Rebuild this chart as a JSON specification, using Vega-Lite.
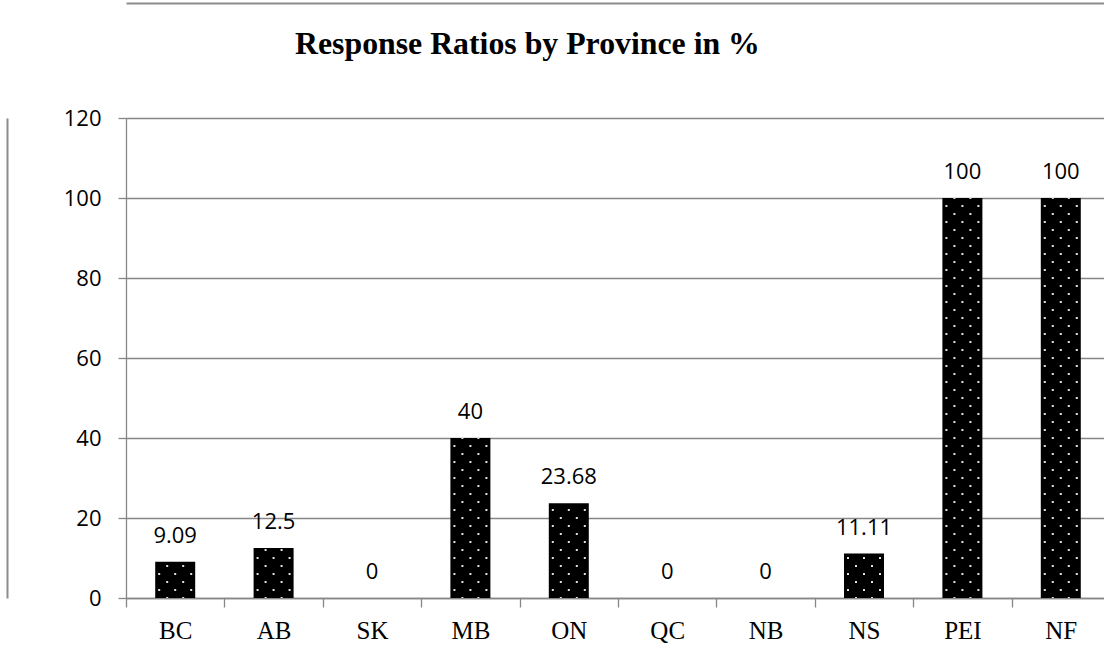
{
  "$schema": "https://vega.github.io/schema/vega-lite/v6.json",
  "width": 984,
  "height": 480,
  "autosize": "none",
  "padding": {"left": 126, "top": 118, "right": 0, "bottom": 52},
  "background": "white",
  "config": {"view": {"stroke": null}},
  "title": {
    "text": "Response Ratios by Province in %",
    "font": "Liberation Serif",
    "fontSize": 31.8,
    "fontWeight": "bold",
    "color": "black",
    "anchor": "start",
    "frame": "group",
    "dx": 169,
    "dy": 31,
    "baseline": "alphabetic",
    "offset": -52
  },
  "data": {
    "values": [
      {"province": "BC", "value": 9.09},
      {"province": "AB", "value": 12.5},
      {"province": "SK", "value": 0},
      {"province": "MB", "value": 40},
      {"province": "ON", "value": 23.68},
      {"province": "QC", "value": 0},
      {"province": "NB", "value": 0},
      {"province": "NS", "value": 11.11},
      {"province": "PEI", "value": 100},
      {"province": "NF", "value": 100}
    ]
  },
  "resolve": {"axis": {"x": "independent", "y": "independent"}},
  "layer": [
    {
      "encoding": {
        "x": {
          "field": "province",
          "type": "nominal",
          "sort": null,
          "scale": {"paddingInner": 0, "paddingOuter": 0},
          "axis": {
            "title": null,
            "labelAngle": 0,
            "tickBand": "extent",
            "tickSize": 9,
            "tickColor": "#868686",
            "tickWidth": 1.3,
            "domainColor": "#868686",
            "domainWidth": 1.3,
            "labelFont": "Liberation Serif",
            "labelFontSize": 25,
            "labelColor": "black",
            "labelPadding": 11,
            "grid": false
          }
        },
        "y": {
          "field": "value",
          "type": "quantitative",
          "scale": {"domain": [0, 120]},
          "axis": {
            "title": null,
            "values": [0, 20, 40, 60, 80, 100, 120],
            "tickSize": 8,
            "tickColor": "#868686",
            "tickWidth": 1.3,
            "domainColor": "#868686",
            "domainWidth": 1.3,
            "gridColor": "#868686",
            "gridWidth": 1.3,
            "labelFont": "Open Sans",
            "labelFontSize": 22,
            "labelColor": "black",
            "labelPadding": 17
          }
        }
      },
      "layer": [
        {"mark": {"type": "bar", "color": "black", "width": {"band": 0.4065}}},
        {
          "mark": {"type": "rule", "color": "#e2e2e2", "strokeWidth": 2, "strokeDash": [2, 14], "strokeDashOffset": 9.1, "xOffset": -16},
          "encoding": {"y": {"datum": 0, "type": "quantitative"}, "y2": {"field": "value"}}
        },
        {
          "mark": {"type": "rule", "color": "#e2e2e2", "strokeWidth": 2, "strokeDash": [2, 14], "strokeDashOffset": 1.1, "xOffset": -8},
          "encoding": {"y": {"datum": 0, "type": "quantitative"}, "y2": {"field": "value"}}
        },
        {
          "mark": {"type": "rule", "color": "#e2e2e2", "strokeWidth": 2, "strokeDash": [2, 14], "strokeDashOffset": 9.1, "xOffset": 0},
          "encoding": {"y": {"datum": 0, "type": "quantitative"}, "y2": {"field": "value"}}
        },
        {
          "mark": {"type": "rule", "color": "#e2e2e2", "strokeWidth": 2, "strokeDash": [2, 14], "strokeDashOffset": 1.1, "xOffset": 8},
          "encoding": {"y": {"datum": 0, "type": "quantitative"}, "y2": {"field": "value"}}
        },
        {
          "mark": {"type": "rule", "color": "#e2e2e2", "strokeWidth": 2, "strokeDash": [2, 14], "strokeDashOffset": 9.1, "xOffset": 16},
          "encoding": {"y": {"datum": 0, "type": "quantitative"}, "y2": {"field": "value"}}
        },
        {
          "mark": {"type": "text", "font": "Open Sans", "fontSize": 22, "color": "black", "baseline": "alphabetic", "dy": -19},
          "encoding": {"text": {"field": "value", "type": "quantitative", "format": "~g"}}
        }
      ]
    },
    {
      "mark": {"type": "point", "opacity": 0},
      "encoding": {
        "x": {
          "field": "province",
          "type": "nominal",
          "sort": null,
          "axis": {"orient": "top", "offset": 115, "title": null, "labels": false, "ticks": false, "grid": false, "domainColor": "#8c8c8c", "domainWidth": 2}
        },
        "y": {
          "field": "value",
          "type": "quantitative",
          "axis": {"orient": "left", "offset": 119, "title": null, "labels": false, "ticks": false, "grid": false, "domainColor": "#8c8c8c", "domainWidth": 2}
        }
      }
    }
  ]
}
